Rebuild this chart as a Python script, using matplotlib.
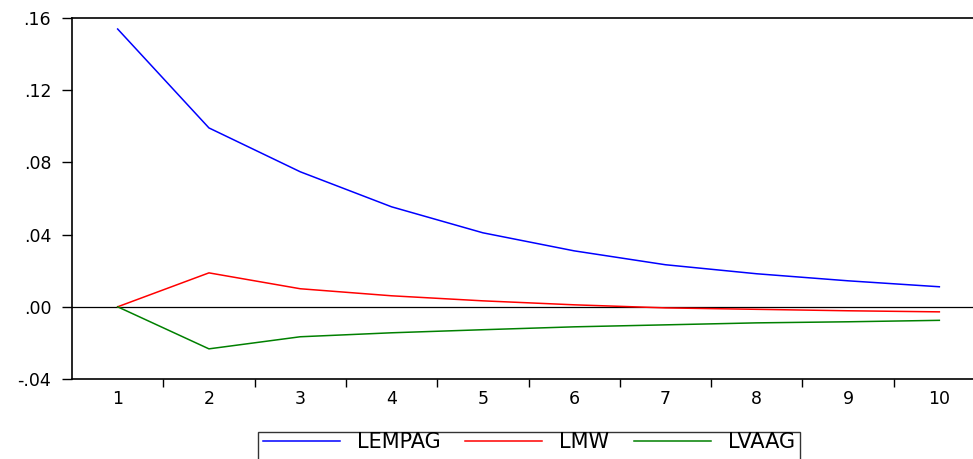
import numpy as np
import matplotlib.pyplot as plt
from matplotlib.patches import Rectangle

plt.rcParams['font.family'] = ['DejaVu Sans']

periods = [1, 2, 3, 4, 5, 6, 7, 8, 9, 10]
lempag = [0.1539, 0.0991, 0.0748, 0.0554, 0.0410, 0.0310, 0.0233, 0.0183, 0.0144, 0.0111]
lmw = [0.0, 0.0188, 0.0100, 0.0061, 0.0033, 0.0011, -0.0006, -0.0014, -0.0022, -0.0028]
lvaag = [0.0, -0.0233, -0.0166, -0.0144, -0.0127, -0.0111, -0.0100, -0.0089, -0.0083, -0.0075]

yticks = [-0.04, 0.00, 0.04, 0.08, 0.12, 0.16]
ylabels = ['-.04', '.00', '.04', '.08', '.12', '.16']

fig = plt.figure(figsize=(9.73, 4.59), dpi=100)
ax = fig.add_axes([72/973, 1 - 379/459, (985 - 72)/973, (379 - 18)/459])

ax.axhline(0, color='black', lw=0.9, zorder=1)
ax.plot(periods, lempag, color='#0000ff', lw=1.1, label='LEMPAG')
ax.plot(periods, lmw, color='#ff0000', lw=1.1, label='LMW')
ax.plot(periods, lvaag, color='#008000', lw=1.1, label='LVAAG')

ax.set_xlim(0.5, 10.5)
ax.set_ylim(-0.04, 0.16)
ax.set_yticks(yticks)
ax.set_yticklabels(ylabels, fontsize=12.5)
ax.set_xticks([p + 0.5 for p in periods[:-1]])
ax.set_xticklabels([])
ax.set_xticks(periods, minor=True)
ax.set_xticklabels([str(p) for p in periods], minor=True, fontsize=12.5)
ax.tick_params(axis='x', which='minor', length=0, pad=8)
ax.tick_params(axis='x', which='major', length=6, direction='out', width=1)
ax.tick_params(axis='y', length=7, direction='out', width=1, pad=8)
ax.spines['right'].set_visible(False)
for s in ['left', 'bottom', 'top']:
    ax.spines[s].set_linewidth(1.2)

# legend box runs off the bottom edge like in the original
box = Rectangle((258/973, -0.05), (800 - 258)/973, 0.05 + 1 - 432/459,
                transform=fig.transFigure, fill=False, edgecolor='#333333', lw=1.0)
fig.patches.append(box)
leg = fig.legend(loc='center', bbox_to_anchor=(529/973, 1 - 442/459), ncol=3,
                 prop={'size': 15}, frameon=False,
                 handlelength=3.7, handletextpad=0.8, columnspacing=1.2, borderpad=0,
                 borderaxespad=0)

fig.savefig('out.png', dpi=100)
